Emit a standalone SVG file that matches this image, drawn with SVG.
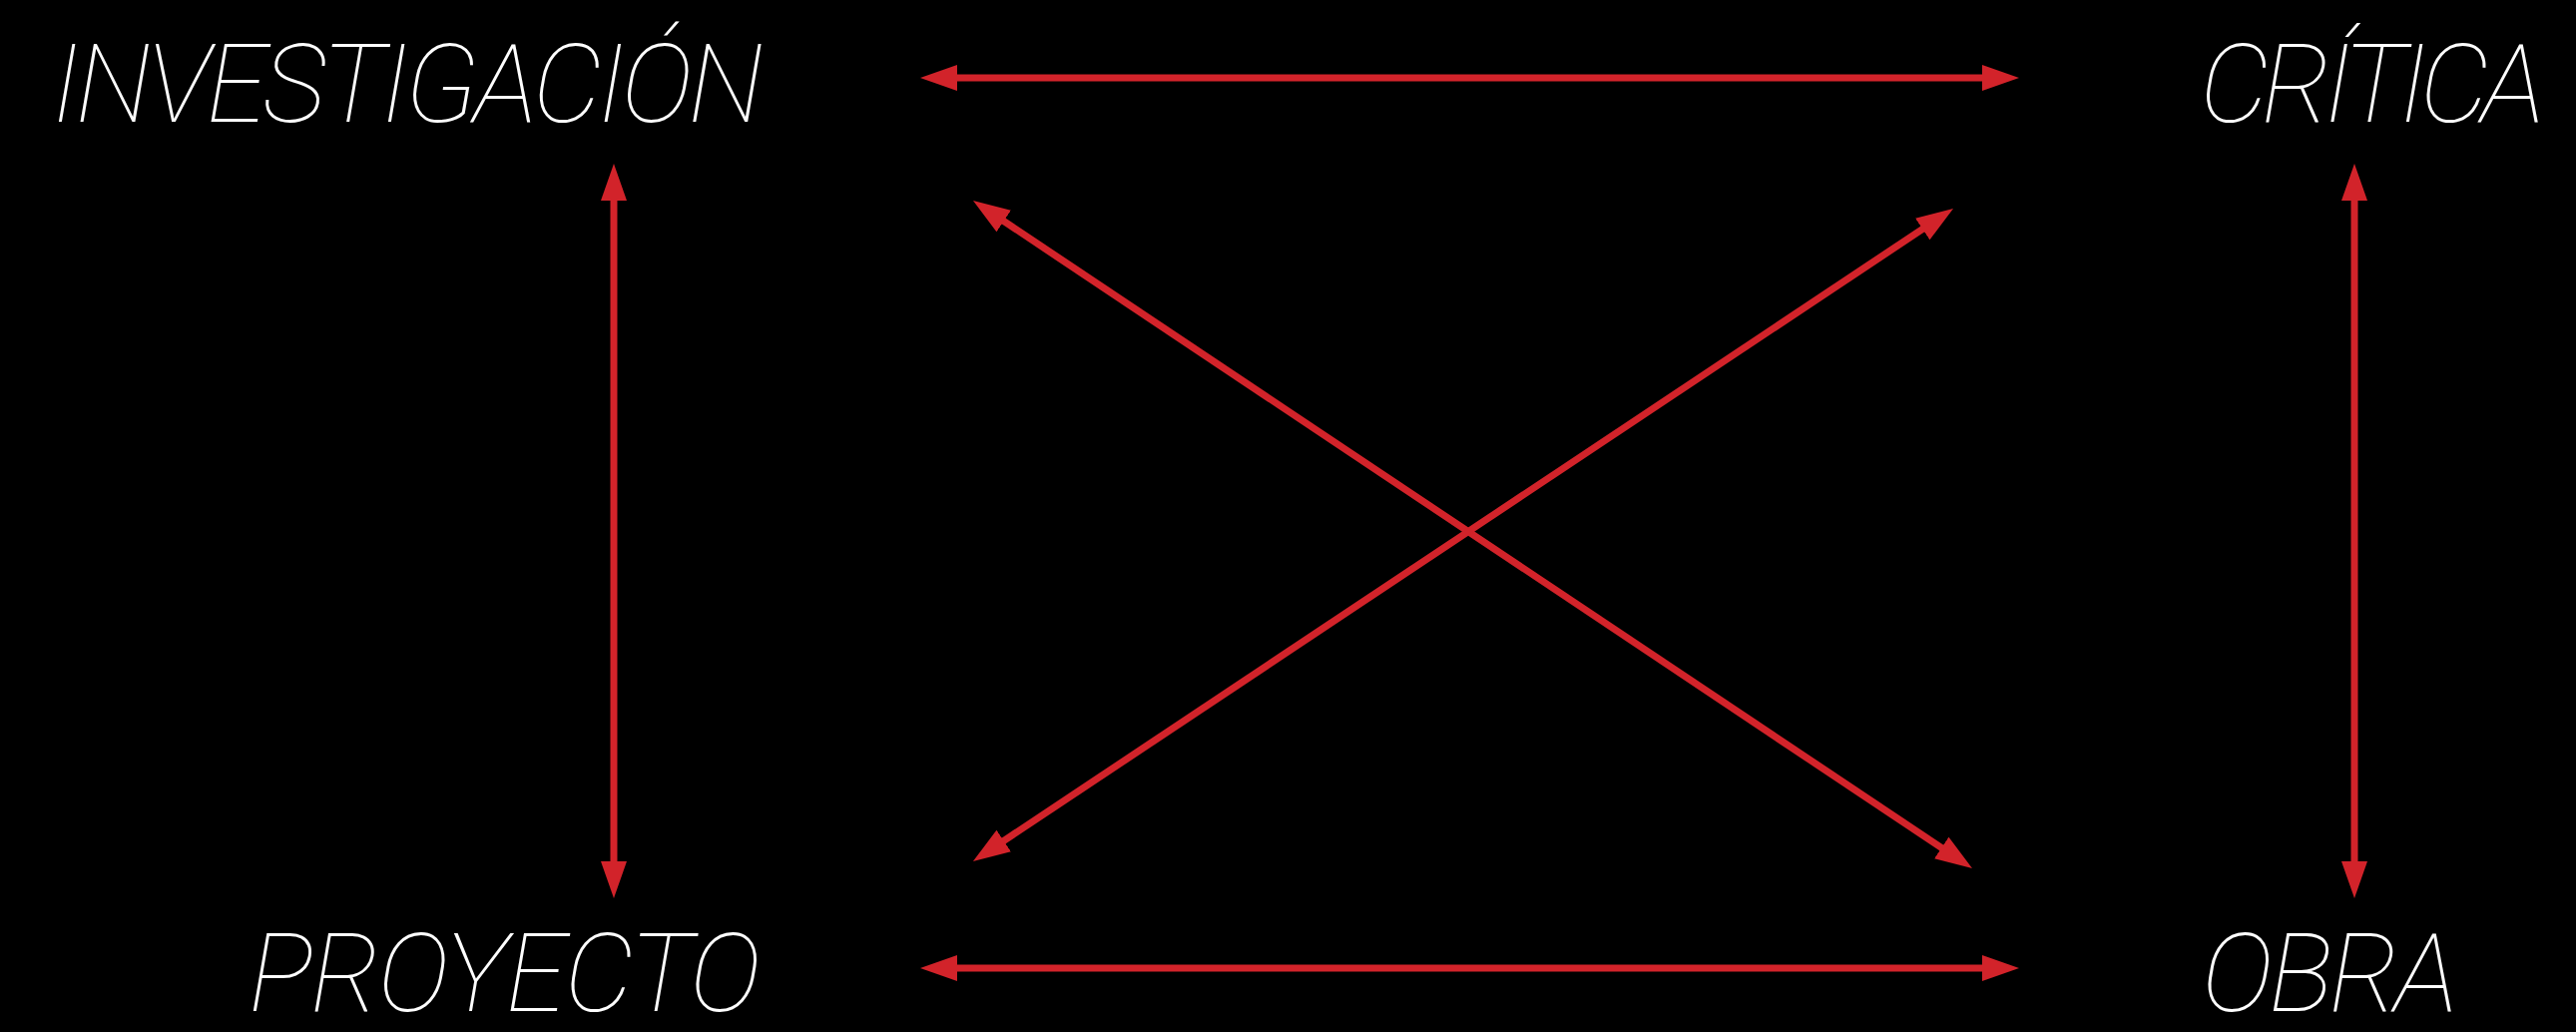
<svg xmlns="http://www.w3.org/2000/svg" width="2581" height="1034" viewBox="0 0 2581 1034">
<style>
.lbl{fill:#ffffff;font-family:Roboto,"Lato","Liberation Sans",sans-serif;font-weight:100;font-style:italic;font-size:110px}
.con{stroke:#d2232a;stroke-width:7;fill:none;marker-start:url(#ah);marker-end:url(#ah)}
</style>
<defs>
<marker id="ah" viewBox="0 0 37 26" refX="17" refY="13" markerWidth="37" markerHeight="26" markerUnits="userSpaceOnUse" orient="auto-start-reverse">
<path d="M0,0 L37,13 L0,26 Z" fill="#d2232a"/>
</marker>
</defs>
<rect width="2581" height="1034" fill="#000000"/>
<g id="connectors">
<line class="con" x1="942" y1="78" x2="2003" y2="78"/>
<line class="con" x1="942" y1="970" x2="2003" y2="970"/>
<line class="con" x1="615" y1="184" x2="615" y2="880"/>
<line class="con" x1="2359" y1="184" x2="2359" y2="880"/>
<line class="con" x1="991.6" y1="212.1" x2="1959.4" y2="858.9"/>
<line class="con" x1="1940.4" y1="220.1" x2="991.6" y2="851.9"/>
</g>
<g id="investigacion"><text class="lbl" x="52" y="122" textLength="713" lengthAdjust="spacing">INVESTIGACIÓN</text></g>
<g id="critica"><text class="lbl" x="2204" y="122" textLength="346" lengthAdjust="spacing">CRÍTICA</text></g>
<g id="proyecto"><text class="lbl" x="249" y="1013" textLength="513" lengthAdjust="spacing">PROYECTO</text></g>
<g id="obra"><text class="lbl" x="2206" y="1013" textLength="257" lengthAdjust="spacing">OBRA</text></g>
</svg>
